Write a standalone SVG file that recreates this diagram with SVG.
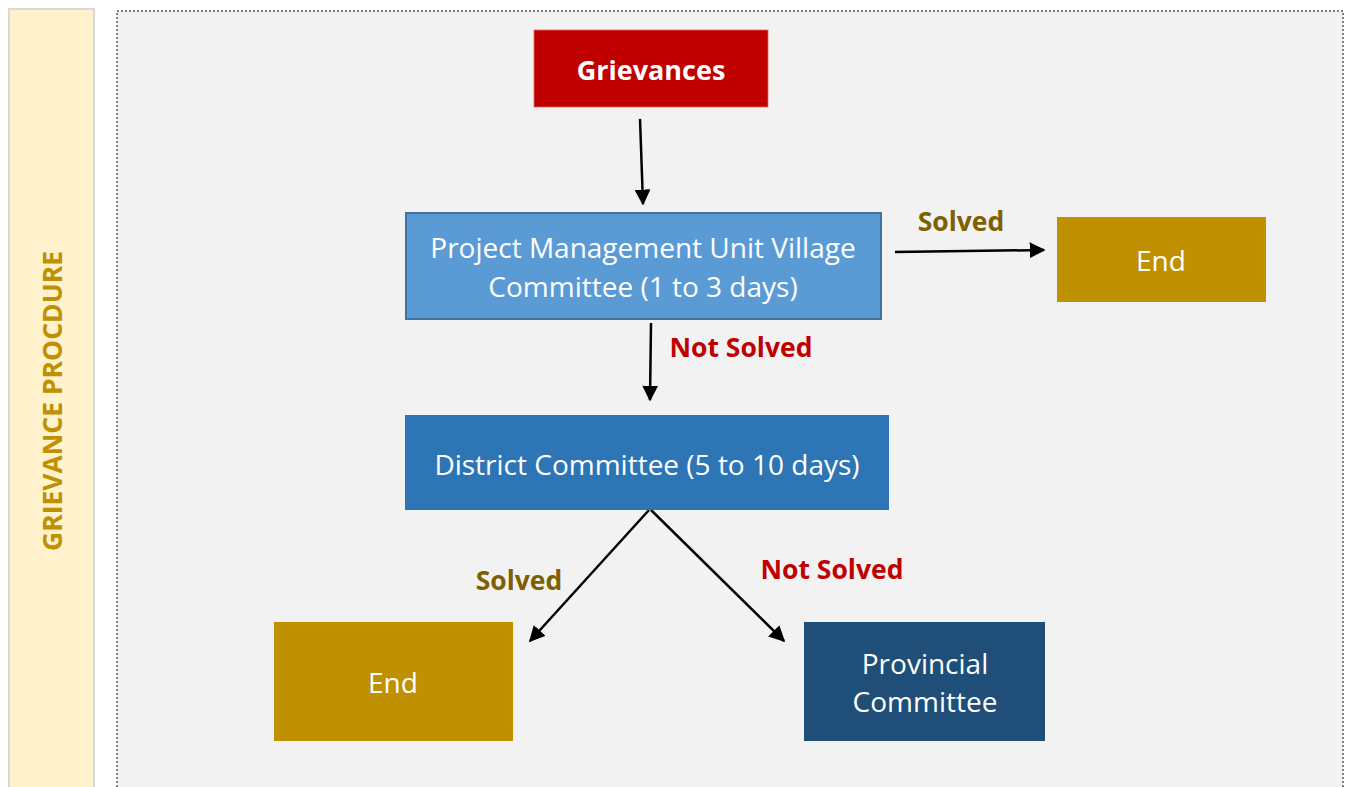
<svg xmlns="http://www.w3.org/2000/svg" width="1351" height="787" viewBox="0 0 1351 787">
<defs>
<style>
.t{font-family:"Open Sans","Noto Sans","Liberation Sans",sans-serif;fill:#fff;text-anchor:middle;dominant-baseline:central}
.lbl{font-family:"Open Sans","Noto Sans","Liberation Sans",sans-serif;font-weight:bold;text-anchor:middle;dominant-baseline:central;font-size:26.5px}
</style>
<marker id="ahb" viewBox="0 0 10 10" refX="9" refY="5" markerWidth="16" markerHeight="16" markerUnits="userSpaceOnUse" orient="auto">
<path d="M0,0 L10,5 L0,10 Z" fill="#000"/>
</marker>
</defs>
<rect width="1351" height="787" fill="#ffffff"/>
<g id="side-panel">
<rect x="9" y="9" width="85" height="790" fill="#fff2cc" stroke="#d9d9d9" stroke-width="2"/>
<text class="lbl" transform="translate(52,401) rotate(-90)" fill="#bf9000" style="font-size:26.5px">GRIEVANCE PROCDURE</text>
</g>
<g id="frame">
<rect x="117" y="11" width="1226" height="790" fill="#f2f2f2" stroke="#7f7f7f" stroke-width="2" stroke-dasharray="2,2"/>
</g>
<g id="connectors">
<line x1="640" y1="119" x2="643" y2="204" stroke="#000" stroke-width="2.5" marker-end="url(#ahb)"/>
<line x1="895" y1="252" x2="1044" y2="250" stroke="#000" stroke-width="2.5" marker-end="url(#ahb)"/>
<line x1="651" y1="323" x2="650" y2="400" stroke="#000" stroke-width="2.5" marker-end="url(#ahb)"/>
<line x1="649" y1="510" x2="530" y2="641" stroke="#000" stroke-width="2.5" marker-end="url(#ahb)"/>
<line x1="651" y1="510" x2="784" y2="641" stroke="#000" stroke-width="2.5" marker-end="url(#ahb)"/>
<text class="lbl" x="961" y="221" fill="#7f6000">Solved</text>
<text class="lbl" x="741" y="347" fill="#c00000">Not Solved</text>
<text class="lbl" x="519" y="580" fill="#7f6000">Solved</text>
<text class="lbl" x="832" y="569" fill="#c00000">Not Solved</text>
</g>
<g id="grievances">
<rect x="534" y="30" width="234" height="77" fill="#c00000" stroke="#e06666" stroke-width="0.8"/>
<text class="t" x="651" y="69" font-size="27" font-weight="bold">Grievances</text>
</g>
<g id="pmu">
<rect x="406" y="213" width="475" height="106" fill="#5b9bd5" stroke="#41719c" stroke-width="2"/>
<text class="t" x="643" y="247" font-size="28">Project Management Unit Village</text>
<text class="t" x="643" y="286" font-size="28">Committee (1 to 3 days)</text>
</g>
<g id="end1">
<rect x="1057" y="217" width="209" height="85" fill="#bf9000"/>
<text class="t" x="1161" y="260" font-size="28">End</text>
</g>
<g id="district">
<rect x="405" y="415" width="484" height="95" fill="#2e75b6"/>
<text class="t" x="647" y="464" font-size="28">District Committee (5 to 10 days)</text>
</g>
<g id="end2">
<rect x="274" y="622" width="239" height="119" fill="#bf9000"/>
<text class="t" x="393" y="682" font-size="28">End</text>
</g>
<g id="provincial">
<rect x="804" y="622" width="241" height="119" fill="#1f4e79"/>
<text class="t" x="925" y="663" font-size="28">Provincial</text>
<text class="t" x="925" y="701" font-size="28">Committee</text>
</g>
</svg>
